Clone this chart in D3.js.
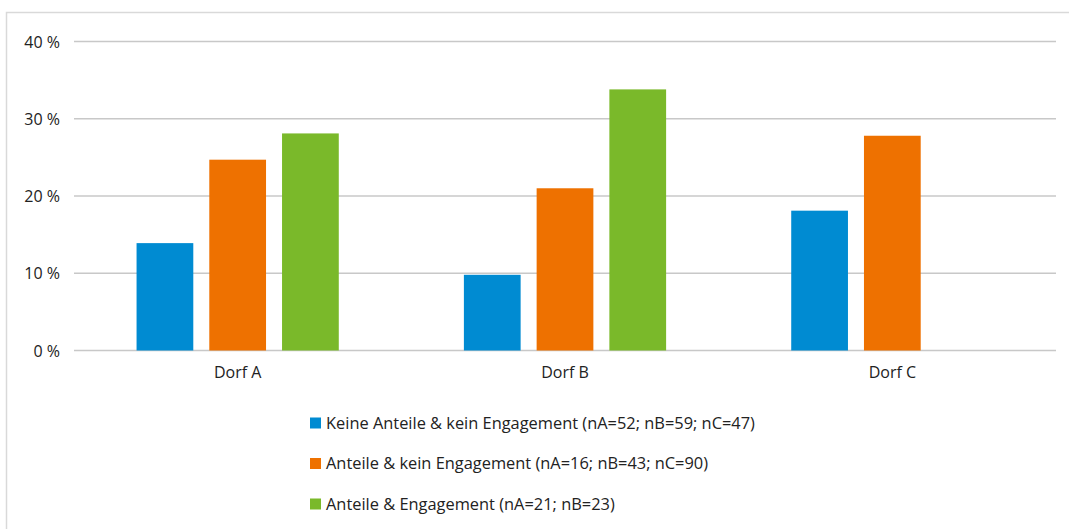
<!DOCTYPE html>
<html>
<head>
<meta charset="utf-8" />
<title>Dorf A / B / C</title>
<script src="https://cdn.jsdelivr.net/npm/d3@7"></script>
<style>
  body { margin: 0; background: #fff; }
  text { font-family: "Open Sans", "Liberation Sans", sans-serif; fill: #222; }
</style>
</head>
<body>
<script>
  var width = 1069, height = 529;

  var categories = ["Dorf A", "Dorf B", "Dorf C"];
  var seriesNames = [
    "Keine Anteile & kein Engagement (nA=52; nB=59; nC=47)",
    "Anteile & kein Engagement (nA=16; nB=43; nC=90)",
    "Anteile & Engagement (nA=21; nB=23)"
  ];
  var keineValues = [13.9, 9.8, 18.1];
  var anteileValues = [24.7, 21.0, 27.8];
  var engagementValues = [28.1, 33.8, null];
  var yTicks = [0, 10, 20, 30, 40];
  var colors = ["#008bd2", "#ee7100", "#7ab92a"];

  var series = [keineValues, anteileValues, engagementValues];

  var svg = d3.select("body").append("svg")
      .attr("width", width)
      .attr("height", height);

  // chart frame (right and bottom edges sit outside the picture)
  svg.append("rect")
      .attr("x", 6.5).attr("y", 12.5)
      .attr("width", 1080).attr("height", 540)
      .attr("fill", "none")
      .attr("stroke", "#d9d9d9")
      .attr("stroke-width", 1.5);

  var plot = { left: 74, right: 1056, top: 41.5, bottom: 350.5 };

  var y = d3.scaleLinear().domain([0, 40]).range([plot.bottom, plot.top]);

  var x0 = d3.scaleBand().domain(categories)
      .range([plot.left, plot.right]).padding(0);

  var x1 = d3.scaleBand().domain(d3.range(series.length))
      .range([0, x0.bandwidth()])
      .paddingInner(0.22).paddingOuter(0.86);

  // gridlines
  svg.append("g").selectAll("line")
      .data(yTicks).join("line")
      .attr("x1", plot.left).attr("x2", plot.right)
      .attr("y1", function(d) { return y(d); })
      .attr("y2", function(d) { return y(d); })
      .attr("stroke", "#c8c8c8")
      .attr("stroke-width", 1.5);

  // y labels
  var yAxis = d3.axisLeft(y).tickValues(yTicks)
      .tickSize(0).tickPadding(0)
      .tickFormat(function(d) { return d + " %"; });
  var yg = svg.append("g")
      .attr("transform", "translate(60,0)")
      .call(yAxis);
  yg.select(".domain").remove();
  yg.selectAll("text")
      .attr("font-family", null)
      .style("font-size", "16px")
      .attr("dy", "0.35em");

  // x labels
  var xAxis = d3.axisBottom(x0).tickSize(0).tickPadding(0);
  var xg = svg.append("g")
      .attr("transform", "translate(0,366)")
      .call(xAxis);
  xg.select(".domain").remove();
  xg.selectAll("text")
      .attr("font-family", null)
      .style("font-size", "16px")
      .attr("dy", "0.75em");

  // bars
  var groups = svg.append("g").selectAll("g")
      .data(categories).join("g")
      .attr("transform", function(d) { return "translate(" + x0(d) + ",0)"; });

  groups.selectAll("rect")
      .data(function(d, i) {
        return series.map(function(s, k) { return { k: k, v: s[i] }; })
                     .filter(function(e) { return e.v != null; });
      })
      .join("rect")
      .attr("x", function(d) { return x1(d.k); })
      .attr("width", x1.bandwidth())
      .attr("y", function(d) { return y(d.v); })
      .attr("height", function(d) { return y(0) - y(d.v); })
      .attr("fill", function(d) { return colors[d.k]; });

  // legend
  var legend = svg.append("g").selectAll("g")
      .data(seriesNames).join("g")
      .attr("transform", function(d, i) { return "translate(310," + (423 + i * 40.5) + ")"; });

  legend.append("rect")
      .attr("x", 0).attr("y", -5.5)
      .attr("width", 11).attr("height", 11)
      .attr("fill", function(d, i) { return colors[i]; });

  legend.append("text")
      .attr("x", 16)
      .attr("dy", "0.35em")
      .style("font-size", "16.4px")
      .text(function(d) { return d; });
</script>
</body>
</html>
